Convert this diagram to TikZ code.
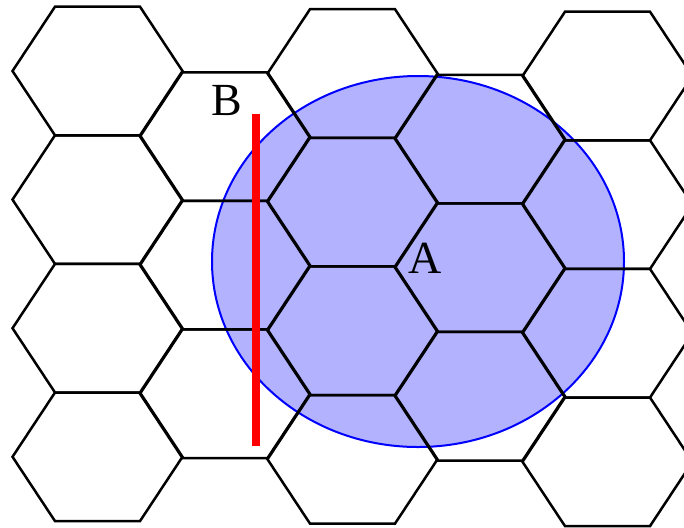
\documentclass[tikz,border=0pt]{standalone}
\usepackage{fontspec}
\setmainfont{Liberation Serif}
\begin{document}
\begin{tikzpicture}[
    x=0.5pt, y=-0.5pt,
    hexline/.style={draw=black, line width=1.25pt, line join=miter},
    zone/.style={draw=blue, line width=1pt, fill=blue!30},
    cutline/.style={draw=red, line width=4pt},
    lbl/.style={anchor=base, inner sep=0pt, font=\fontsize{23}{27}\selectfont}
  ]
    \useasboundingbox (0,0) rectangle (684,527);
    \clip (0,0) rectangle (684,527);
    % coverage area
    \draw[zone] (418,261.5) ellipse [x radius=206, y radius=185.5];
    % hexagonal cells (shifted columns have one cell less)
    \foreach \i in {0,...,4} {
      \pgfmathtruncatemacro{\rows}{3-mod(\i,2)}
      \foreach \j in {0,...,\rows} {
        \pgfmathsetmacro{\cx}{97.5+127.5*\i}
        \pgfmathsetmacro{\cy}{71+1.25*\i+64.3*(2*\j+mod(\i,2))}
        \draw[hexline] (\cx-85,\cy) -- ++(42.5,-64.3) -- ++(85,0) -- ++(42.5,64.3)
          -- ++(-42.5,64.3) -- ++(-85,0) -- cycle;
      }
    }
    \draw[cutline] (256,114) -- (256,446);
    \node[lbl] (B) at (227,115) {B};
    \node[lbl] (A) at (425,273) {A};
\end{tikzpicture}
\end{document}
